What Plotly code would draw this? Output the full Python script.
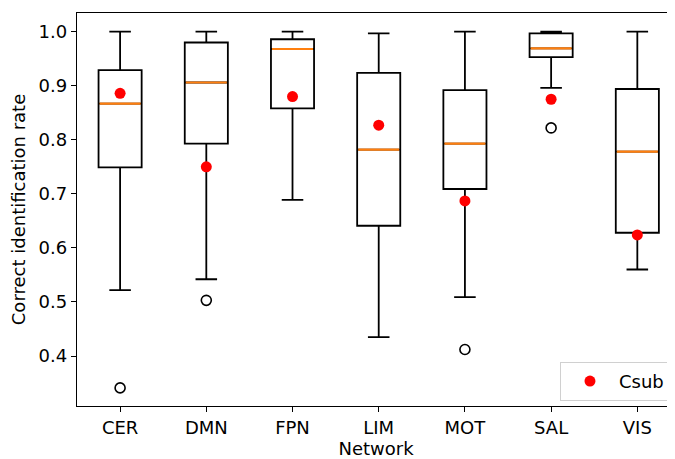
import plotly.graph_objects as go

networks = ["CER", "DMN", "FPN", "LIM", "MOT", "SAL", "VIS"]
q1 = [0.749, 0.793, 0.858, 0.641, 0.709, 0.953, 0.628]
median = [0.867, 0.906, 0.968, 0.782, 0.793, 0.969, 0.778]
q3 = [0.929, 0.980, 0.986, 0.924, 0.892, 0.997, 0.894]
lower_whisker = [0.522, 0.542, 0.689, 0.435, 0.509, 0.896, 0.560]
upper_whisker = [1.000, 1.000, 1.000, 0.997, 1.000, 1.000, 1.000]
outlier_net = ["CER", "DMN", "MOT", "SAL"]
outlier_val = [0.341, 0.503, 0.412, 0.822]
csub = [0.886, 0.750, 0.880, 0.827, 0.687, 0.875, 0.624]

pos = list(range(len(networks)))
box_w = 0.5
font = "DejaVu Sans, Arial, sans-serif"

fig = go.Figure()
fig.add_trace(go.Box(
    x=pos, q1=q1, median=median, q3=q3,
    lowerfence=lower_whisker, upperfence=upper_whisker,
    width=box_w, whiskerwidth=0.5, boxpoints=False,
    line=dict(color="black", width=1.8), fillcolor="rgba(255,255,255,0)",
    showlegend=False, hoverinfo="skip",
))
# orange median lines
for i, m in zip(pos, median):
    fig.add_trace(go.Scatter(
        x=[i - box_w / 2 + 0.012, i + box_w / 2 - 0.012], y=[m, m], mode="lines",
        line=dict(color="#ff7f0e", width=2.2), showlegend=False, hoverinfo="skip",
    ))
# outliers
fig.add_trace(go.Scatter(
    x=[networks.index(n) for n in outlier_net], y=outlier_val, mode="markers",
    marker=dict(symbol="circle-open", size=10, color="black", line=dict(width=1.6)),
    showlegend=False, hoverinfo="skip",
))
fig.add_trace(go.Scatter(
    x=pos, y=csub, mode="markers", name="Csub",
    marker=dict(color="red", size=11),
))

fig.update_layout(
    width=667, height=451,
    margin=dict(l=69, r=0, t=5, b=53, autoexpand=False),
    paper_bgcolor="white", plot_bgcolor="white",
    font=dict(family=font, size=18, color="black"),
    legend=dict(
        x=0.9916, y=0.013, xanchor="right", yanchor="bottom",
        bordercolor="#d0d0d0", borderwidth=1, bgcolor="white",
        font=dict(size=18), itemwidth=48,
    ),
)
fig.update_xaxes(
    range=[-0.5, 6.437], tickmode="array", tickvals=pos, ticktext=networks,
    showline=True, linecolor="black", linewidth=1.4, mirror=True,
    ticks="outside", ticklen=5, tickcolor="black", tickwidth=1.4,
    showgrid=False, zeroline=False,
    tickfont=dict(size=18), automargin=False,
    title=dict(text="Network", standoff=2, font=dict(size=18)),
)
fig.update_yaxes(
    range=[0.3075, 1.0346], tickmode="array",
    tickvals=[0.4, 0.5, 0.6, 0.7, 0.8, 0.9, 1.0],
    ticktext=["0.4", "0.5", "0.6", "0.7", "0.8", "0.9", "1.0"],
    showline=True, linecolor="black", linewidth=1.4, mirror=False,
    ticks="outside", ticklen=5, tickcolor="black", tickwidth=1.4,
    showgrid=False, zeroline=False,
    tickfont=dict(size=18), automargin=False,
    title=dict(text="Correct identification rate", standoff=8, font=dict(size=18)),
)
fig.write_html("out.html")
